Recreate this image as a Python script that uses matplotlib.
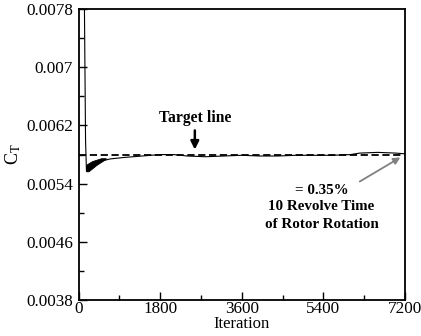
import numpy as np
import matplotlib.pyplot as plt
from matplotlib.ticker import MultipleLocator, FixedLocator

plt.rcParams['font.family'] = ['Liberation Serif', 'DejaVu Serif']
plt.rcParams['mathtext.fontset'] = 'stix'

# Thrust coefficient history
iterations = [120, 155, 175, 250, 350, 500, 700, 1000, 1400, 1800, 2100, 2400, 2800,
              3200, 3600, 4000, 4400, 4800, 5200, 5600, 6000, 6200, 6600, 7000, 7200]
ct = [0.0086, 0.0060, 0.00557, 0.00560, 0.00566, 0.00571, 0.00574, 0.00576, 0.00578,
      0.00580, 0.00580, 0.00578, 0.00577, 0.00578, 0.00579, 0.00578, 0.00578, 0.00579,
      0.00579, 0.00579, 0.00580, 0.00582, 0.00583, 0.00582, 0.00581]

# Envelope of the early oscillation
band_iterations = [170, 220, 300, 400, 500, 600]
band_upper = [0.00566, 0.00568, 0.00571, 0.00573, 0.00575, 0.00575]
band_lower = [0.00557, 0.00557, 0.00561, 0.00566, 0.00570, 0.00574]

target_ct = 0.0058

y_ticks = [0.0038, 0.0046, 0.0054, 0.0062, 0.007, 0.0078]
y_ticklabels = ['0.0038', '0.0046', '0.0054', '0.0062', '0.007', '0.0078']
y_minor_ticks = [0.0042, 0.0050, 0.0058, 0.0066, 0.0074]

# Create Figure
figure_1 = plt.figure(figsize=(4.21, 3.36), dpi=100)
axis_1 = figure_1.add_axes([0.1865, 0.107, 0.7755, 0.866])

axis_1.plot(iterations, ct, color='black', lw=0.8)
axis_1.fill_between(band_iterations, band_lower, band_upper, color='black', lw=0.6)
axis_1.axhline(target_ct, color='black', lw=1.3, linestyle=(0, (4, 2)))

# Annotations
axis_1.annotate('', xy=(2565, 0.00583), xytext=(2565, 0.00617),
                arrowprops=dict(arrowstyle='-|>', color='black', lw=1.8, mutation_scale=12))
axis_1.text(2565, 0.00630, 'Target line', ha='center', va='center',
            fontsize=11.3, fontweight='bold')

axis_1.annotate('', xy=(7150, 0.00578), xytext=(6150, 0.00541),
                arrowprops=dict(arrowstyle='-|>', color='gray', lw=1.3, mutation_scale=10))
axis_1.text(5360, 0.00531, '= 0.35%', ha='center', va='center', fontsize=10.8, fontweight='bold')
axis_1.text(5360, 0.00508, '10 Revolve Time', ha='center', va='center', fontsize=10.8, fontweight='bold')
axis_1.text(5360, 0.00484, 'of Rotor Rotation', ha='center', va='center', fontsize=10.8, fontweight='bold')

# Axes limits and ticks
axis_1.set_xlim(0, 7200)
axis_1.set_ylim(0.0038, 0.0078)
axis_1.xaxis.set_major_locator(MultipleLocator(1800))
axis_1.xaxis.set_minor_locator(MultipleLocator(900))
axis_1.set_yticks(y_ticks)
axis_1.set_yticklabels(y_ticklabels)
axis_1.yaxis.set_minor_locator(FixedLocator(y_minor_ticks))
axis_1.tick_params(which='both', direction='in', labelsize=12.3, width=1)
axis_1.tick_params(which='major', length=6)
axis_1.tick_params(which='minor', length=3.5)
axis_1.tick_params(axis='x', pad=1)
axis_1.tick_params(axis='y', pad=4)
for spine in axis_1.spines.values():
    spine.set_linewidth(1.3)

axis_1.set_xlabel('Iteration', fontsize=12, labelpad=-1)
axis_1.set_ylabel(r'C$_\mathrm{T}$', fontsize=13, labelpad=2)

plt.savefig('out.png', dpi=100)
plt.close()
